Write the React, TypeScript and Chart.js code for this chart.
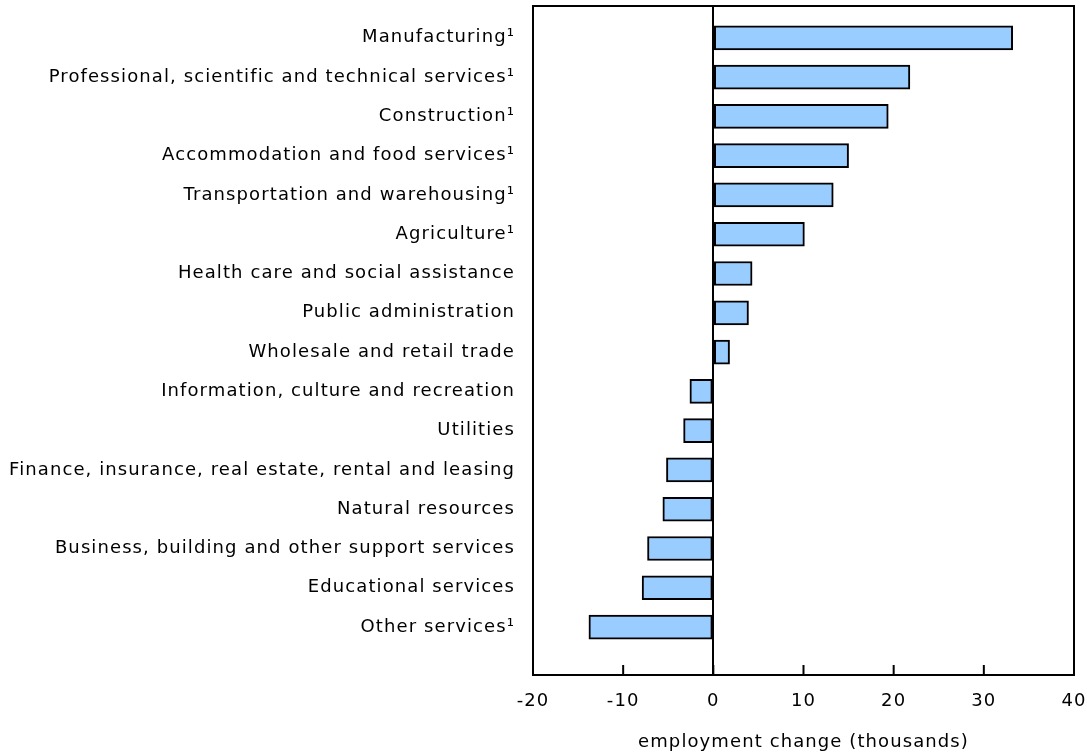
import React, { useEffect, useRef } from "react";
import { Chart, registerables } from "chart.js";

Chart.register(...registerables);

const categories: string[] = [
  "Manufacturing¹",
  "Professional, scientific and technical services¹",
  "Construction¹",
  "Accommodation and food services¹",
  "Transportation and warehousing¹",
  "Agriculture¹",
  "Health care and social assistance",
  "Public administration",
  "Wholesale and retail trade",
  "Information, culture and recreation",
  "Utilities",
  "Finance, insurance, real estate, rental and leasing",
  "Natural resources",
  "Business, building and other support services",
  "Educational services",
  "Other services¹",
];

const employmentChange: number[] = [
  33.2, 21.8, 19.4, 15.0, 13.3, 10.1, 4.3, 3.9, 1.8, -2.6, -3.3, -5.2, -5.6, -7.3, -7.9, -13.8,
];

const xTicks: number[] = [-20, -10, 0, 10, 20, 30, 40];

const FONT = "'DejaVu Sans', Verdana, sans-serif";

const spacingPlugin = {
  id: "letterSpacing",
  beforeUpdate(chart: any) {
    chart.ctx.letterSpacing = "1.1px";
  },
  beforeDraw(chart: any) {
    chart.ctx.letterSpacing = "1.1px";
  },
};

const boxPlugin = {
  id: "boxAndTicks",
  afterDatasetsDraw(chart: any) {
    const { ctx, chartArea, scales } = chart;
    const x = scales.x;
    ctx.save();
    ctx.strokeStyle = "#000";
    ctx.lineWidth = 2;
    ctx.strokeRect(chartArea.left, chartArea.top, chartArea.right - chartArea.left, chartArea.bottom - chartArea.top);
    xTicks.forEach((t) => {
      const px = x.getPixelForValue(t);
      ctx.beginPath();
      ctx.moveTo(px, chartArea.bottom);
      ctx.lineTo(px, chartArea.bottom - 10);
      ctx.stroke();
    });
    ctx.restore();
  },
};

const zeroPad = (scale: any) => {
  scale.paddingTop = 0;
  scale.paddingBottom = 0;
  scale.paddingLeft = 0;
  scale.paddingRight = 0;
};

export default function App() {
  const ref = useRef<HTMLCanvasElement | null>(null);
  useEffect(() => {
    document.body.style.margin = "0";
    if (!ref.current) return;
    const chart = new Chart(ref.current, {
      type: "bar",
      data: {
        datasets: [
          {
            data: employmentChange.map((v, i) => ({ x: v, y: i })),
            backgroundColor: "#99ccff",
            borderColor: "#000000",
            borderWidth: 2,
            borderSkipped: false,
            barThickness: 24,
          },
        ],
      },
      options: {
        animation: false,
        responsive: false,
        indexAxis: "y",
        layout: { autoPadding: false, padding: { top: 6, right: 13, left: 0, bottom: 0 } },
        plugins: { legend: { display: false }, tooltip: { enabled: false } },
        scales: {
          x: {
            type: "linear",
            min: -20,
            max: 40,
            offset: false,
            afterBuildTicks: (scale: any) => {
              scale.ticks = xTicks.map((v) => ({ value: v }));
            },
            afterFit: (scale: any) => {
              scale.height = 78;
              zeroPad(scale);
            },
            grid: {
              drawTicks: false,
              color: (c: any) => (c.tick && c.tick.value === 0 ? "#000" : "rgba(0,0,0,0)"),
              lineWidth: 2,
            },
            border: { display: false },
            ticks: {
              color: "#000",
              padding: 16,
              font: { family: FONT, size: 18 },
            },
            title: {
              display: true,
              text: "employment change (thousands)",
              color: "#000",
              font: { family: FONT, size: 18 },
              padding: { top: 12, bottom: 0 },
            },
          },
          y: {
            type: "linear",
            reverse: true,
            offset: false,
            min: -0.81,
            max: 16.22,
            afterBuildTicks: (scale: any) => {
              scale.ticks = categories.map((_, i) => ({ value: i }));
            },
            afterFit: (scale: any) => {
              scale.width = 533;
              zeroPad(scale);
            },
            grid: { display: false, drawTicks: false, offset: false },
            border: { display: false },
            ticks: {
              color: "#000",
              padding: 18,
              autoSkip: false,
              font: { family: FONT, size: 18 },
              callback: (v: any) => categories[v as number] ?? "",
            },
          },
        },
      },
      plugins: [spacingPlugin, boxPlugin],
    });
    return () => chart.destroy();
  }, []);
  return (
    <div style={{ width: 1087, height: 753 }}>
      <canvas ref={ref} width={1087} height={753} style={{ display: "block" }} />
    </div>
  );
}
